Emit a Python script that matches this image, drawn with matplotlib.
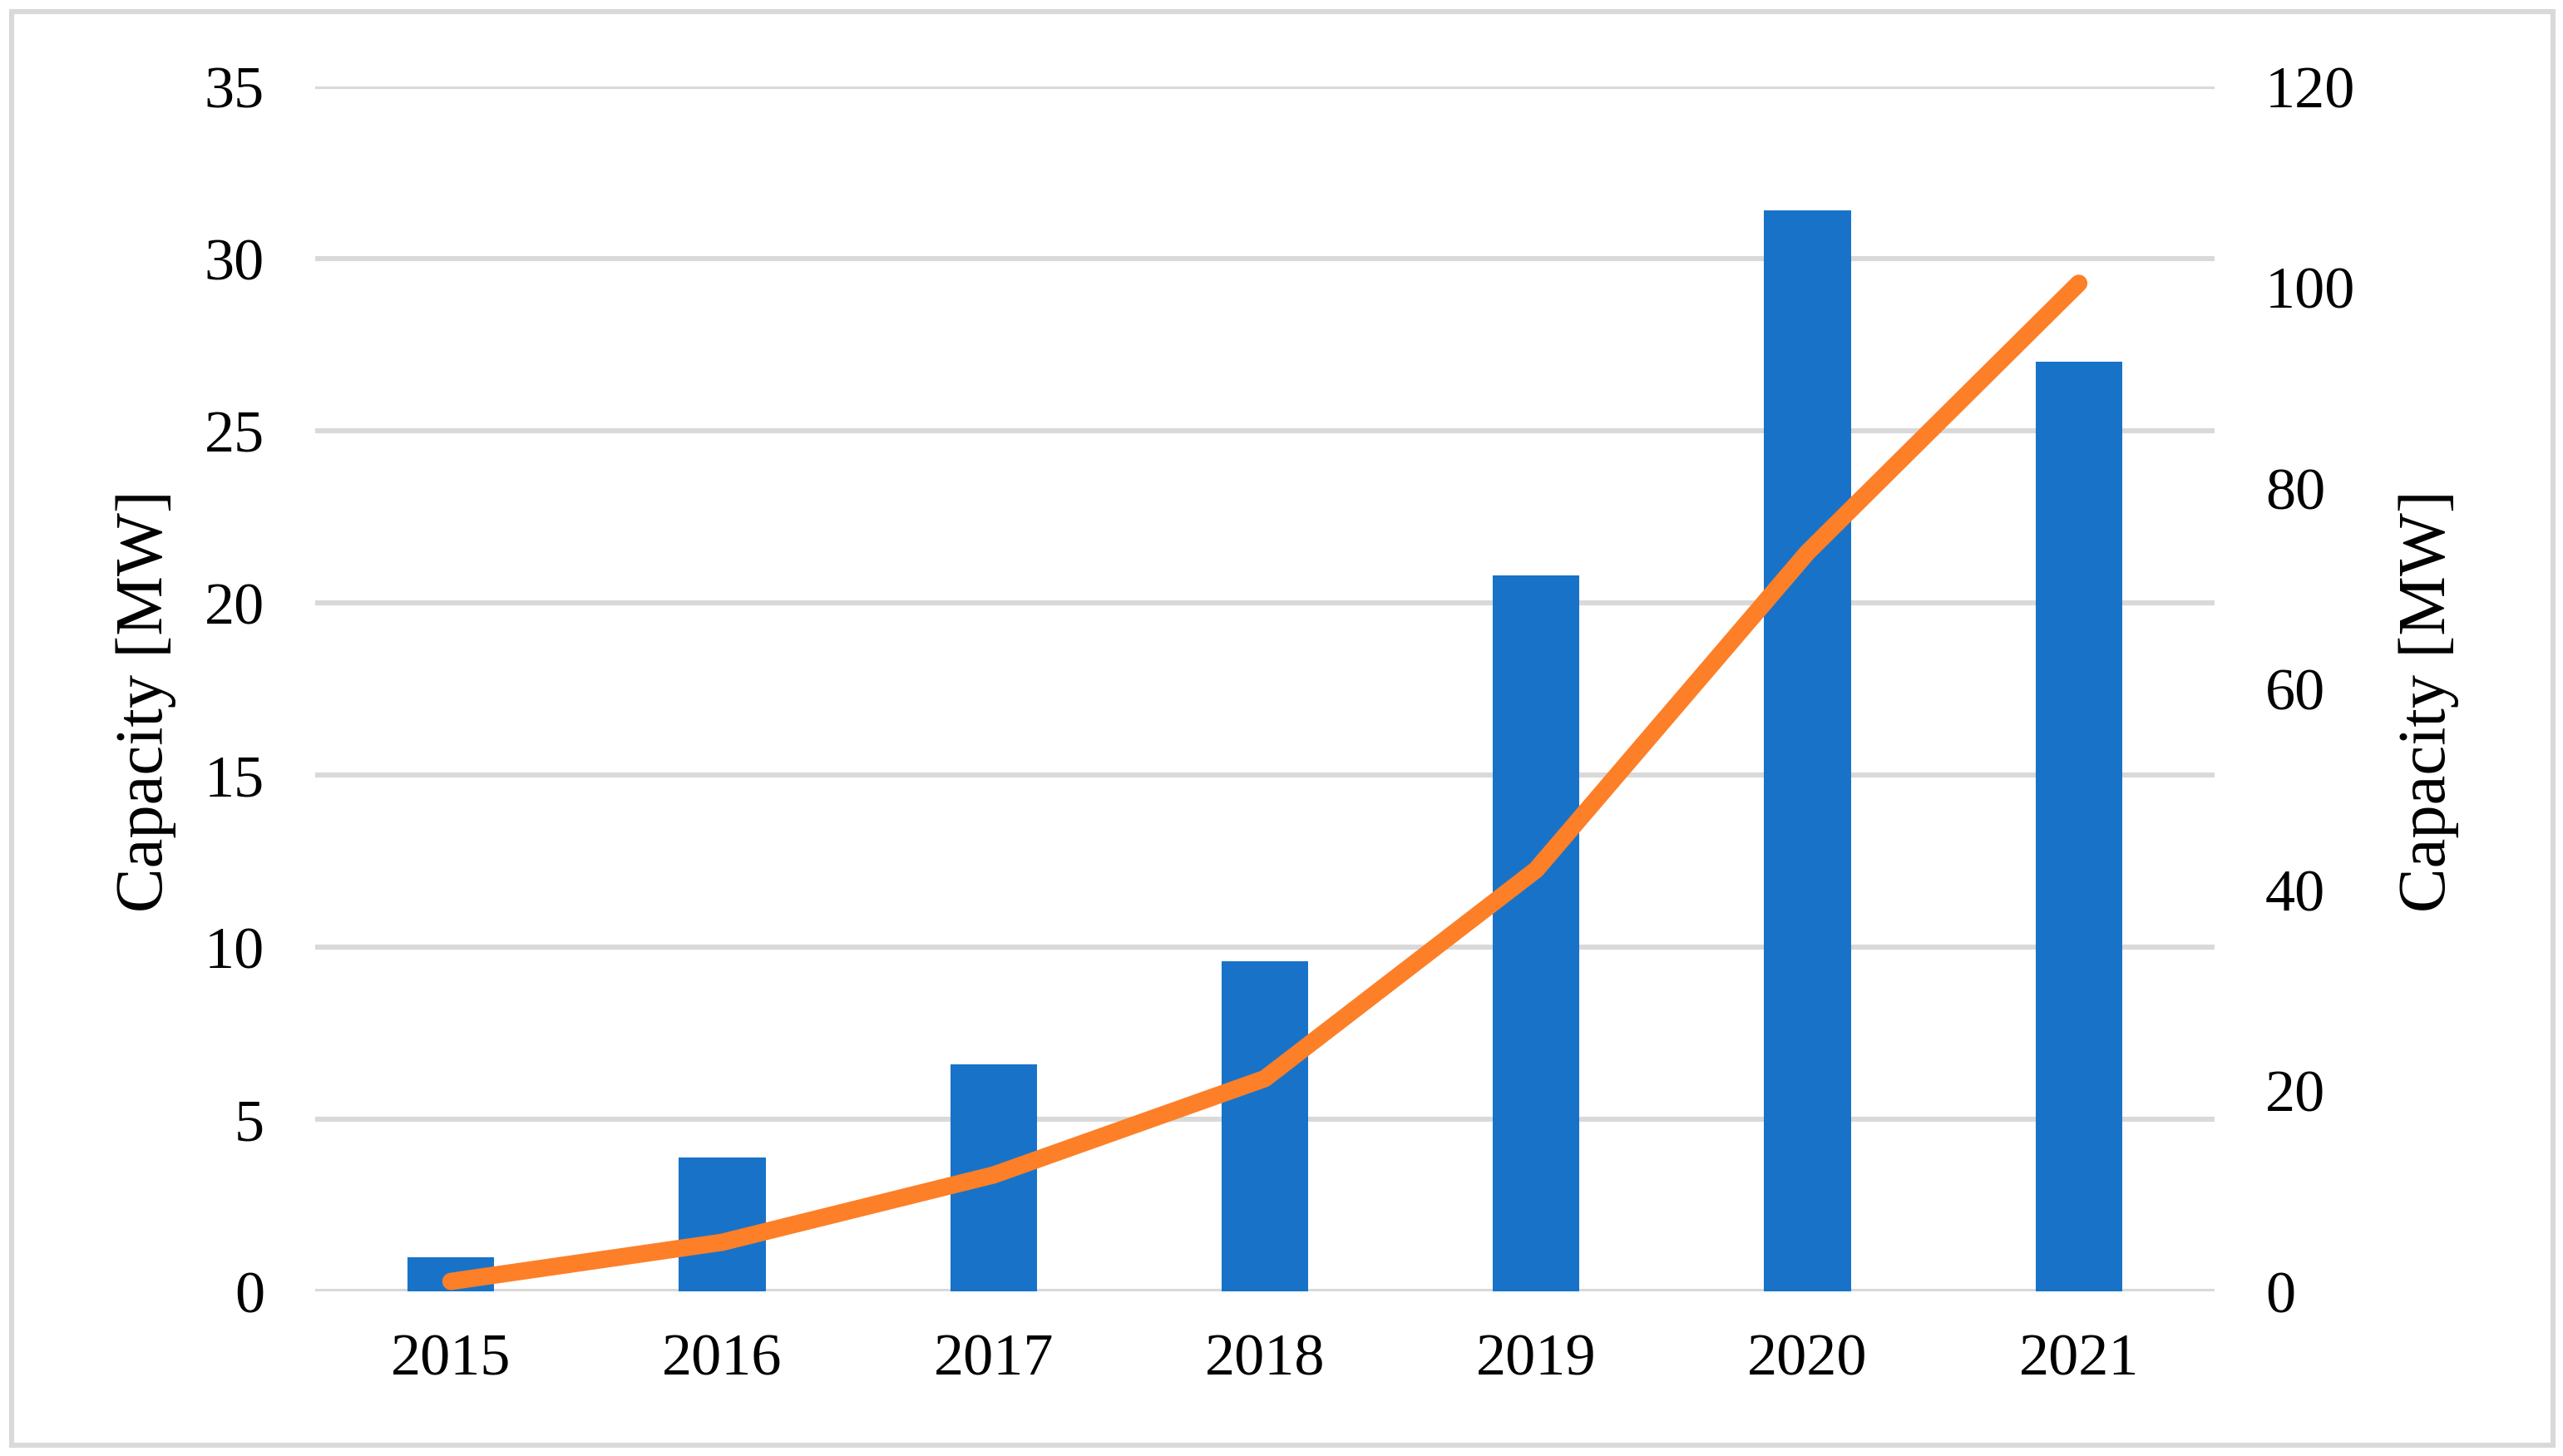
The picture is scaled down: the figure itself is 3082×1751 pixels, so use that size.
import matplotlib.pyplot as plt
from matplotlib.patches import Rectangle
import numpy as np

years = ['2015', '2016', '2017', '2018', '2019', '2020', '2021']
# annual capacity (bars, left axis) and cumulative capacity (line, right axis)
annual_mw = [1.0, 3.9, 6.6, 9.6, 20.8, 31.4, 27.0]
cumulative_mw = [1.0, 4.9, 11.6, 21.2, 42.0, 73.6, 100.4]

left_ticks = [0, 5, 10, 15, 20, 25, 30, 35]
right_ticks = [0, 20, 40, 60, 80, 100, 120]

plt.rcParams['font.family'] = ['Liberation Serif', 'DejaVu Serif']

bar_color = '#1873C8'
line_color = '#FD7F28'
grid_color = '#D9D9D9'

fig = plt.figure(figsize=(15.41, 8.755), dpi=200)
ax = fig.add_axes([0.123, 0.113, 0.741, 0.8276])

# light grey frame round the whole chart
fig.patches.append(Rectangle((0.0045, 0.0075), 0.9915, 0.9845, transform=fig.transFigure,
                             fill=False, edgecolor=grid_color, linewidth=2.2))

x = np.arange(len(years))
ax.bar(x, annual_mw, width=0.32, color=bar_color, zorder=2)
ax.set_ylim(0, 35)
ax.set_yticks(left_ticks)
ax.set_xlim(-0.5, 6.5)
ax.set_xticks(x)
ax.set_xticklabels(years)
ax.grid(axis='y', color=grid_color, linewidth=2.2, zorder=0)
ax.set_axisbelow(True)
for s in ax.spines.values():
    s.set_visible(False)
ax.tick_params(axis='both', length=0, labelsize=26)
ax.tick_params(axis='y', pad=22)
ax.tick_params(axis='x', pad=18)
ax.set_ylabel('Capacity [MW]', fontsize=29)
ax.yaxis.set_label_coords(-0.073, 0.49)

ax2 = ax.twinx()
ax2.plot(x, cumulative_mw, color=line_color, linewidth=7.5, solid_capstyle='round',
         solid_joinstyle='round', zorder=3)
ax2.set_ylim(0, 120)
ax2.set_yticks(right_ticks)
for s in ax2.spines.values():
    s.set_visible(False)
ax2.tick_params(axis='y', length=0, labelsize=26, pad=22)
ax2.set_ylabel('Capacity [MW]', fontsize=29)
ax2.yaxis.set_label_coords(1.097, 0.49)

fig.savefig('out.png', dpi=200)
